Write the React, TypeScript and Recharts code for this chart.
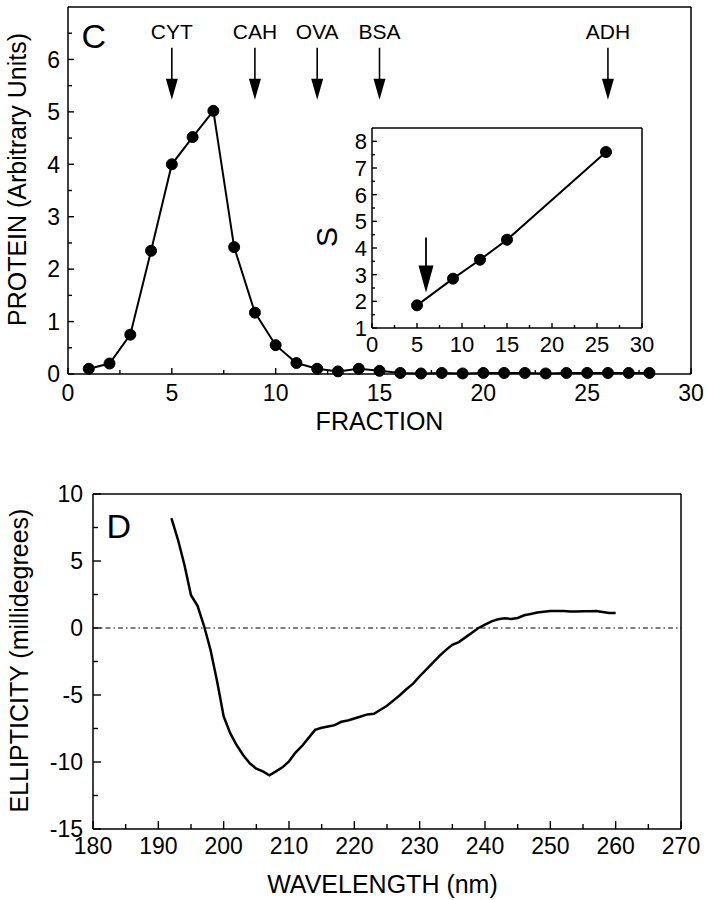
import React from 'react';
import { LineChart, Line, XAxis, YAxis, ReferenceLine, ReferenceDot } from 'recharts';

const FONT = "'Liberation Sans', Arial, Helvetica, sans-serif";

// ---------- Panel C : gel filtration profile ----------
const fractions = [1, 2, 3, 4, 5, 6, 7, 8, 9, 10, 11, 12, 13, 14, 15, 16, 17, 18, 19, 20, 21, 22, 23, 24, 25, 26, 27, 28];
const protein = [0.1, 0.2, 0.75, 2.35, 4.0, 4.52, 5.02, 2.42, 1.17, 0.55, 0.21, 0.1, 0.05, 0.1, 0.06, 0.02, 0.01, 0.02, 0.01, 0.02, 0.02, 0.02, 0.01, 0.02, 0.02, 0.02, 0.02, 0.02];
const standardNames = ['CYT', 'CAH', 'OVA', 'BSA', 'ADH'];
const standardFractions = [5, 9, 12, 15, 26];
const standardArrowLevel = 5.23;

const cXTicks = [0, 2.5, 5, 7.5, 10, 12.5, 15, 17.5, 20, 22.5, 25, 27.5, 30];
const cXLabels = [0, 5, 10, 15, 20, 25, 30];
const cYTicks = [0, 0.5, 1, 1.5, 2, 2.5, 3, 3.5, 4, 4.5, 5, 5.5, 6, 6.5];
const cYLabels = [0, 1, 2, 3, 4, 5, 6];

// ---------- Inset : S value vs fraction ----------
const insetFractions = [5, 9, 12, 15, 26];
const insetS = [1.85, 2.85, 3.56, 4.31, 7.6];
const insetArrowFraction = 6;
const insetArrowS = 2.33;
const insetXTicks = [0, 2.5, 5, 7.5, 10, 12.5, 15, 17.5, 20, 22.5, 25, 27.5, 30];
const insetXLabels = [0, 5, 10, 15, 20, 25, 30];
const insetYTicks = [1, 1.5, 2, 2.5, 3, 3.5, 4, 4.5, 5, 5.5, 6, 6.5, 7, 7.5, 8];
const insetYLabels = [1, 2, 3, 4, 5, 6, 7, 8];

// ---------- Panel D : CD spectrum ----------
const wavelengths = [192, 193, 194, 195, 196, 197, 198, 199, 200, 201, 202, 203, 204, 205, 206, 207, 208, 209, 210, 211, 212, 213, 214, 215, 216, 217, 218, 219, 220, 221, 222, 223, 224, 225, 226, 227, 228, 229, 230, 231, 232, 233, 234, 235, 236, 237, 238, 239, 240, 241, 242, 243, 244, 245, 246, 247, 248, 249, 250, 251, 252, 253, 254, 255, 256, 257, 258, 259, 260];
const ellipticity = [8.2, 6.6, 4.7, 2.45, 1.65, 0.15, -1.66, -4.0, -6.6, -7.85, -8.75, -9.5, -10.1, -10.5, -10.7, -11.0, -10.7, -10.4, -9.95, -9.3, -8.8, -8.2, -7.6, -7.45, -7.35, -7.25, -7.0, -6.9, -6.75, -6.6, -6.45, -6.4, -6.1, -5.8, -5.4, -5.0, -4.55, -4.15, -3.6, -3.1, -2.6, -2.1, -1.65, -1.25, -1.05, -0.7, -0.35, 0.0, 0.25, 0.5, 0.65, 0.72, 0.68, 0.75, 0.95, 1.05, 1.15, 1.22, 1.27, 1.27, 1.26, 1.24, 1.24, 1.25, 1.25, 1.27, 1.2, 1.12, 1.12];
const dXTicks = [180, 185, 190, 195, 200, 205, 210, 215, 220, 225, 230, 235, 240, 245, 250, 255, 260, 265, 270];
const dXLabels = [180, 190, 200, 210, 220, 230, 240, 250, 260, 270];
const dYTicks = [-15, -12.5, -10, -7.5, -5, -2.5, 0, 2.5, 5, 7.5, 10];
const dYLabels = [-15, -10, -5, 0, 5, 10];

const proteinData = fractions.map((f, i) => ({ fraction: f, protein: protein[i] }));
const insetData = insetFractions.map((f, i) => ({ fraction: f, s: insetS[i] }));
const cdData = wavelengths.map((w, i) => ({ nm: w, ell: ellipticity[i] }));

const isIn = (arr: number[], v: number) => arr.some((a) => Math.abs(a - v) < 1e-9);

type TickOpts = { major: number; minor: number; fs: number; off: number };

const bottomTick = (labels: number[], o: TickOpts) => (p: any) => {
  const { x, y, payload } = p;
  const v = payload.value;
  const maj = isIn(labels, v);
  return (
    <g>
      <line x1={x} x2={x} y1={y} y2={y - (maj ? o.major : o.minor)} stroke="#000" strokeWidth={1.4} />
      {maj && (
        <text x={x} y={y + o.off} textAnchor="middle" fontSize={o.fs} fontFamily={FONT} fill="#000">
          {v}
        </text>
      )}
    </g>
  );
};

const leftTick = (labels: number[], o: TickOpts) => (p: any) => {
  const { x, y, payload } = p;
  const v = payload.value;
  const maj = isIn(labels, v);
  return (
    <g>
      <line x1={x} x2={x + (maj ? o.major : o.minor)} y1={y} y2={y} stroke="#000" strokeWidth={1.4} />
      {maj && (
        <text x={x - o.off} y={y} dy="0.36em" textAnchor="end" fontSize={o.fs} fontFamily={FONT} fill="#000">
          {v}
        </text>
      )}
    </g>
  );
};

const StandardArrow = ({ cx, cy, name }: { cx: number; cy: number; name: string }) => (
  <g>
    <text x={cx} y={cy - 61} textAnchor="middle" fontSize={21} fontFamily={FONT} fill="#000">
      {name}
    </text>
    <line x1={cx} x2={cx} y1={cy - 52} y2={cy - 18} stroke="#000" strokeWidth={1.6} />
    <polygon points={`${cx - 6},${cy - 21} ${cx + 6},${cy - 21} ${cx},${cy}`} fill="#000" />
  </g>
);

const InsetArrow = ({ cx, cy }: { cx: number; cy: number }) => (
  <g>
    <line x1={cx} x2={cx} y1={cy - 55} y2={cy - 24} stroke="#000" strokeWidth={1.8} />
    <polygon points={`${cx - 7.5},${cy - 27} ${cx + 7.5},${cy - 27} ${cx},${cy}`} fill="#000" />
  </g>
);

const axisLine = { stroke: '#000', strokeWidth: 1.5 };
const titleStyle = { fontSize: 25, fontFamily: FONT, fill: '#000' };

export default function App() {
  return (
    <div style={{ position: 'absolute', left: 0, top: 0, width: 707, height: 900, background: '#fff', overflow: 'hidden' }}>
      {/* Panel C */}
      <div style={{ position: 'absolute', left: 0, top: 0 }}>
        <LineChart width={707} height={440} data={proteinData} margin={{ top: 7, right: 16, bottom: 0, left: 0 }}>
          <XAxis
            dataKey="fraction"
            type="number"
            domain={[0, 30]}
            ticks={cXTicks}
            interval={0}
            tickSize={0}
            tickMargin={0}
            tickLine={false}
            axisLine={axisLine}
            tick={bottomTick(cXLabels, { major: 6, minor: 4, fs: 23, off: 27 })}
            height={66}
            label={{ value: 'FRACTION', position: 'center', dy: 14, ...titleStyle }}
          />
          <YAxis
            type="number"
            domain={[0, 7]}
            ticks={cYTicks}
            interval={0}
            tickSize={0}
            tickMargin={0}
            tickLine={false}
            axisLine={axisLine}
            tick={leftTick(cYLabels, { major: 6, minor: 4, fs: 23, off: 8 })}
            width={68}
            label={{ value: 'PROTEIN (Arbitrary Units)', angle: -90, position: 'center', dx: -16.5, dy: -11, ...titleStyle }}
          />
          <ReferenceLine y={7} stroke="#000" strokeWidth={1.5} />
          <ReferenceLine x={30} stroke="#000" strokeWidth={1.5} />
          {standardFractions.map((f, i) => (
            <ReferenceDot
              key={standardNames[i]}
              x={f}
              y={standardArrowLevel}
              r={0}
              shape={(p: any) => <StandardArrow cx={p.cx} cy={p.cy} name={standardNames[i]} />}
            />
          ))}
          <Line
            type="linear"
            dataKey="protein"
            stroke="#000"
            strokeWidth={2}
            dot={{ r: 5.5, fill: '#000', stroke: '#000', strokeWidth: 1 }}
            activeDot={false}
            isAnimationActive={false}
          />
        </LineChart>
      </div>

      {/* Inset */}
      <div style={{ position: 'absolute', left: 300, top: 110 }}>
        <LineChart width={360} height={260} data={insetData} margin={{ top: 18, right: 18, bottom: 0, left: 0 }}>
          <XAxis
            dataKey="fraction"
            type="number"
            domain={[0, 30]}
            ticks={insetXTicks}
            interval={0}
            tickSize={0}
            tickMargin={0}
            tickLine={false}
            axisLine={axisLine}
            tick={bottomTick(insetXLabels, { major: 5, minor: 3, fs: 22, off: 24 })}
            height={42}
          />
          <YAxis
            type="number"
            domain={[1, 8.5]}
            ticks={insetYTicks}
            interval={0}
            tickSize={0}
            tickMargin={0}
            tickLine={false}
            axisLine={axisLine}
            tick={leftTick(insetYLabels, { major: 5, minor: 3, fs: 22, off: 5 })}
            width={72}
            label={{ value: 'S', angle: -90, position: 'center', dx: -10, dy: 9, fontSize: 30, fontFamily: FONT, fill: '#000' }}
          />
          <ReferenceLine y={8.5} stroke="#000" strokeWidth={1.5} />
          <ReferenceLine x={30} stroke="#000" strokeWidth={1.5} />
          <ReferenceDot x={insetArrowFraction} y={insetArrowS} r={0} shape={(p: any) => <InsetArrow cx={p.cx} cy={p.cy} />} />
          <Line
            type="linear"
            dataKey="s"
            stroke="#000"
            strokeWidth={2}
            dot={{ r: 5.5, fill: '#000', stroke: '#000', strokeWidth: 1 }}
            activeDot={false}
            isAnimationActive={false}
          />
        </LineChart>
      </div>

      {/* Panel D */}
      <div style={{ position: 'absolute', left: 0, top: 460 }}>
        <LineChart width={707} height={440} data={cdData} margin={{ top: 34, right: 26, bottom: 0, left: 0 }}>
          <XAxis
            dataKey="nm"
            type="number"
            domain={[180, 270]}
            ticks={dXTicks}
            interval={0}
            tickSize={0}
            tickMargin={0}
            tickLine={false}
            axisLine={axisLine}
            tick={bottomTick(dXLabels, { major: 8, minor: 5, fs: 23, off: 25 })}
            height={71}
            label={{ value: 'WAVELENGTH (nm)', position: 'center', dx: -4.5, dy: 19.6, ...titleStyle }}
          />
          <YAxis
            type="number"
            domain={[-15, 10]}
            ticks={dYTicks}
            interval={0}
            tickSize={0}
            tickMargin={0}
            tickLine={false}
            axisLine={axisLine}
            tick={leftTick(dYLabels, { major: 8, minor: 5, fs: 23, off: 10 })}
            width={93}
            label={{ value: 'ELLIPTICITY (millidegrees)', angle: -90, position: 'center', dx: -27.5, dy: -1, ...titleStyle }}
          />
          <ReferenceLine y={10} stroke="#000" strokeWidth={1.5} />
          <ReferenceLine x={270} stroke="#000" strokeWidth={1.5} />
          <ReferenceLine y={0} stroke="#000" strokeWidth={1} strokeDasharray="5 3 1.5 3" />
          <Line
            type="linear"
            dataKey="ell"
            stroke="#000"
            strokeWidth={2.5}
            dot={false}
            activeDot={false}
            isAnimationActive={false}
          />
        </LineChart>
      </div>

      {/* Panel letters */}
      <svg width={707} height={900} style={{ position: 'absolute', left: 0, top: 0, pointerEvents: 'none' }}>
        <text x={81.6} y={48} fontSize={34} fontFamily={FONT} fill="#000">C</text>
        <text x={106.5} y={538} fontSize={34} fontFamily={FONT} fill="#000">D</text>
      </svg>
    </div>
  );
}
